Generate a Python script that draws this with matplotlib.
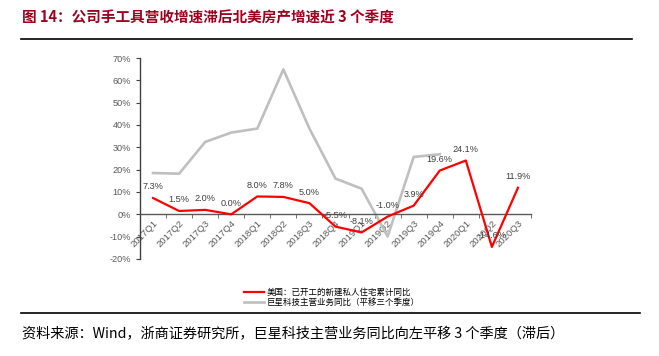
import matplotlib
matplotlib.use("Agg")
import matplotlib.pyplot as plt
from matplotlib.lines import Line2D
import numpy as np

plt.rcParams['font.family'] = ['Liberation Sans', 'Noto Sans CJK SC', 'DejaVu Sans']

quarters = ["2017Q1", "2017Q2", "2017Q3", "2017Q4", "2018Q1", "2018Q2", "2018Q3", "2018Q4",
            "2019Q1", "2019Q2", "2019Q3", "2019Q4", "2020Q1", "2020Q2", "2020Q3"]
us_housing = [7.3, 1.5, 2.0, 0.0, 8.0, 7.8, 5.0, -5.5, -8.1, -1.0, 3.9, 19.6, 24.1, -14.6, 11.9]
company_rev = [18.5, 18.2, 32.4, 36.6, 38.4, 64.9, 38.4, 16.0, 11.5, -9.9, 25.7, 26.9]

red_name = "美国：已开工的新建私人住宅累计同比"
gray_name = "巨星科技主营业务同比（平移三个季度）"
title = "图 14：公司手工具营收增速滞后北美房产增速近 3 个季度"
source = "资料来源：Wind，浙商证券研究所，巨星科技主营业务同比向左平移 3 个季度（滞后）"

W, H = 659, 356
fig = plt.figure(figsize=(W / 100, H / 100), dpi=100)
ax = fig.add_axes([140 / W, 1 - 259 / H, (531 - 140) / W, (259 - 58) / H])

x = np.arange(len(quarters))
ax.plot(np.arange(len(company_rev)), company_rev, color="#BFBFBF", lw=1.9, zorder=2)
ax.plot(x, us_housing, color="#FF0000", lw=1.6, zorder=3)

for i, v in enumerate(us_housing):
    ax.annotate(f"{v:.1f}%", (i, v), xytext=(0, 8), textcoords="offset points",
                ha="center", va="center", fontsize=6.6, color="#404040", zorder=4)

ax.set_xlim(-0.5, len(quarters) - 0.5)
ax.set_ylim(-20, 70)
ax.set_yticks(np.arange(-20, 71, 10))
ax.set_yticklabels([f"{t}%" for t in range(-20, 71, 10)])

ax.spines['top'].set_visible(False)
ax.spines['right'].set_visible(False)
ax.spines['bottom'].set_position(('data', 0))
ax.spines['bottom'].set_color("#595959")
ax.spines['left'].set_color("#404040")
ax.spines['bottom'].set_linewidth(1.0)
ax.spines['left'].set_linewidth(1.0)

ax.set_xticks(x)
ax.set_xticklabels(quarters, rotation=45, ha="right", rotation_mode="anchor")
ax.set_xticks(np.arange(-0.5, len(quarters)), minor=True)
ax.tick_params(axis="x", which="major", length=0, pad=3, labelsize=6.8, labelcolor="#595959")
ax.tick_params(axis="x", which="minor", length=3, direction="out", color="#595959")
ax.tick_params(axis="y", length=3, direction="out", labelsize=6.6, labelcolor="#595959", color="#404040")

handles = [Line2D([], [], color="#FF0000", lw=1.6), Line2D([], [], color="#BFBFBF", lw=1.9)]
fig.legend(handles, [red_name, gray_name], loc="upper left",
           bbox_to_anchor=(238 / W, 1 - 282 / H), frameon=False,
           prop={"family": ["Noto Sans CJK SC"], "size": 6.1},
           handlelength=2.4, handletextpad=0.3, labelspacing=0.15, borderpad=0.2)

fig.text(22 / W, 1 - 17 / H, title, fontsize=10.5, fontweight="bold", color="#A0001E",
         family=["Noto Sans CJK SC"], va="center", ha="left")
fig.add_artist(Line2D([21 / W, 632 / W], [1 - 39 / H, 1 - 39 / H], color="black", lw=1.2))
fig.add_artist(Line2D([21 / W, 640 / W], [1 - 313 / H, 1 - 313 / H], color="black", lw=1.2))
fig.text(22 / W, 1 - 334 / H, source, fontsize=10.2, color="black",
         family=["Noto Sans CJK SC"], va="center", ha="left")

fig.savefig("out.png", dpi=100)
